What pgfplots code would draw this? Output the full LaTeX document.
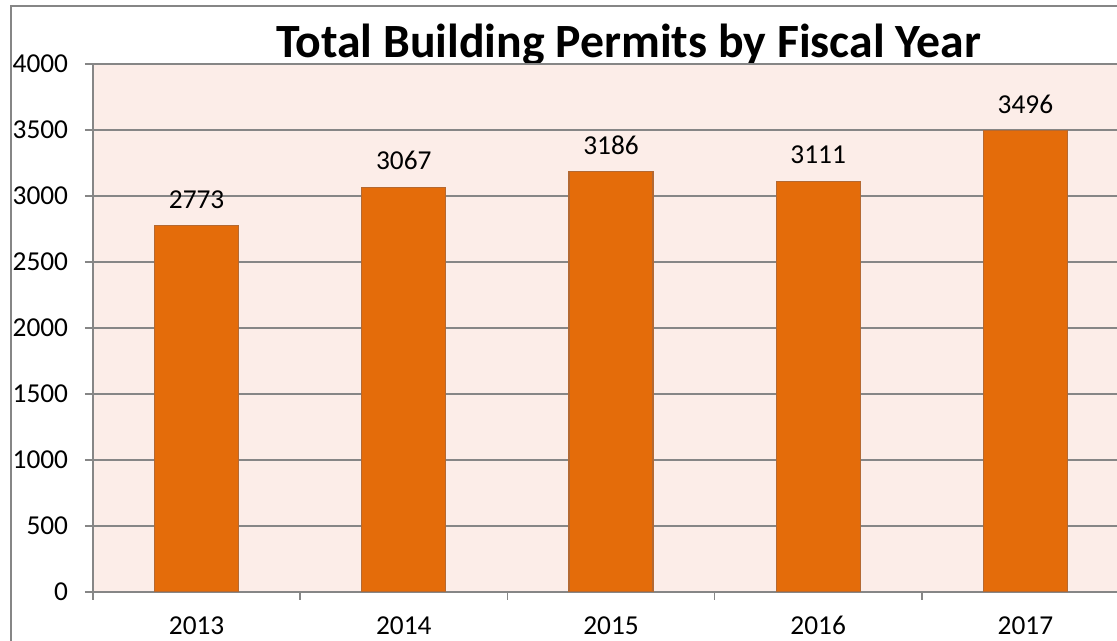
\documentclass[border=0pt]{standalone}
\usepackage{fontspec}
\setmainfont{Carlito}
\usepackage{pgfplots}
\pgfplotsset{compat=1.18}

\definecolor{plotbg}{RGB}{252,237,232}
\definecolor{barfill}{RGB}{228,108,10}
\definecolor{bardraw}{RGB}{180,105,50}
\definecolor{linegray}{RGB}{134,134,134}

\begin{document}
\begin{tikzpicture}
% picture is 1117x641 px, 1px = 0.75pt
\useasboundingbox (0,0) rectangle (837.75pt,480.75pt);
\clip (0,0) rectangle (837.75pt,480.75pt);
\draw[linegray, line width=1.2pt] (8.25pt,-10pt) -- (8.25pt,476.25pt) -- (850pt,476.25pt);
\node[font=\fontsize{35.8}{40}\selectfont\bfseries, anchor=base, inner sep=0pt]
  at (471.4pt,437.25pt) {Total Building Permits by Fiscal Year};
\begin{axis}[
    at={(69.75pt,36.75pt)}, anchor=south west,
    scale only axis,
    width=777pt, height=396pt,
    axis background/.style={fill=plotbg},
    axis line style={linegray, line width=1.1pt},
    xmin=-0.5, xmax=4.5,
    ymin=0, ymax=4000,
    ytick={0,500,...,4000},
    xtick={-0.5,0.5,...,4.5},
    xticklabels={2013,2014,2015,2016,2017},
    x tick label as interval,
    tick align=outside,
    xtick pos=bottom, ytick pos=left,
    major tick length=6pt,
    major tick style={linegray, line width=1.1pt},
    ymajorgrids,
    major grid style={linegray, line width=1.1pt},
    ticklabel style={font=\fontsize{20.5}{24}\selectfont},
    /pgf/number format/assume math mode=true,
    /pgf/number format/1000 sep={},
    yticklabel style={inner sep=0pt, xshift=-12.5pt},
    xticklabel style={inner sep=0pt, yshift=-12pt},
    ybar, bar width=63pt,
    nodes near coords,
    every node near coord/.append style={font=\fontsize{20.5}{24}\selectfont, inner sep=0pt, yshift=12.5pt},
]
\addplot[fill=barfill, draw=bardraw, line width=0.8pt] coordinates {
    (0,2773)
    (1,3067)
    (2,3186)
    (3,3111)
    (4,3496)
};
\end{axis}
\end{tikzpicture}
\end{document}
